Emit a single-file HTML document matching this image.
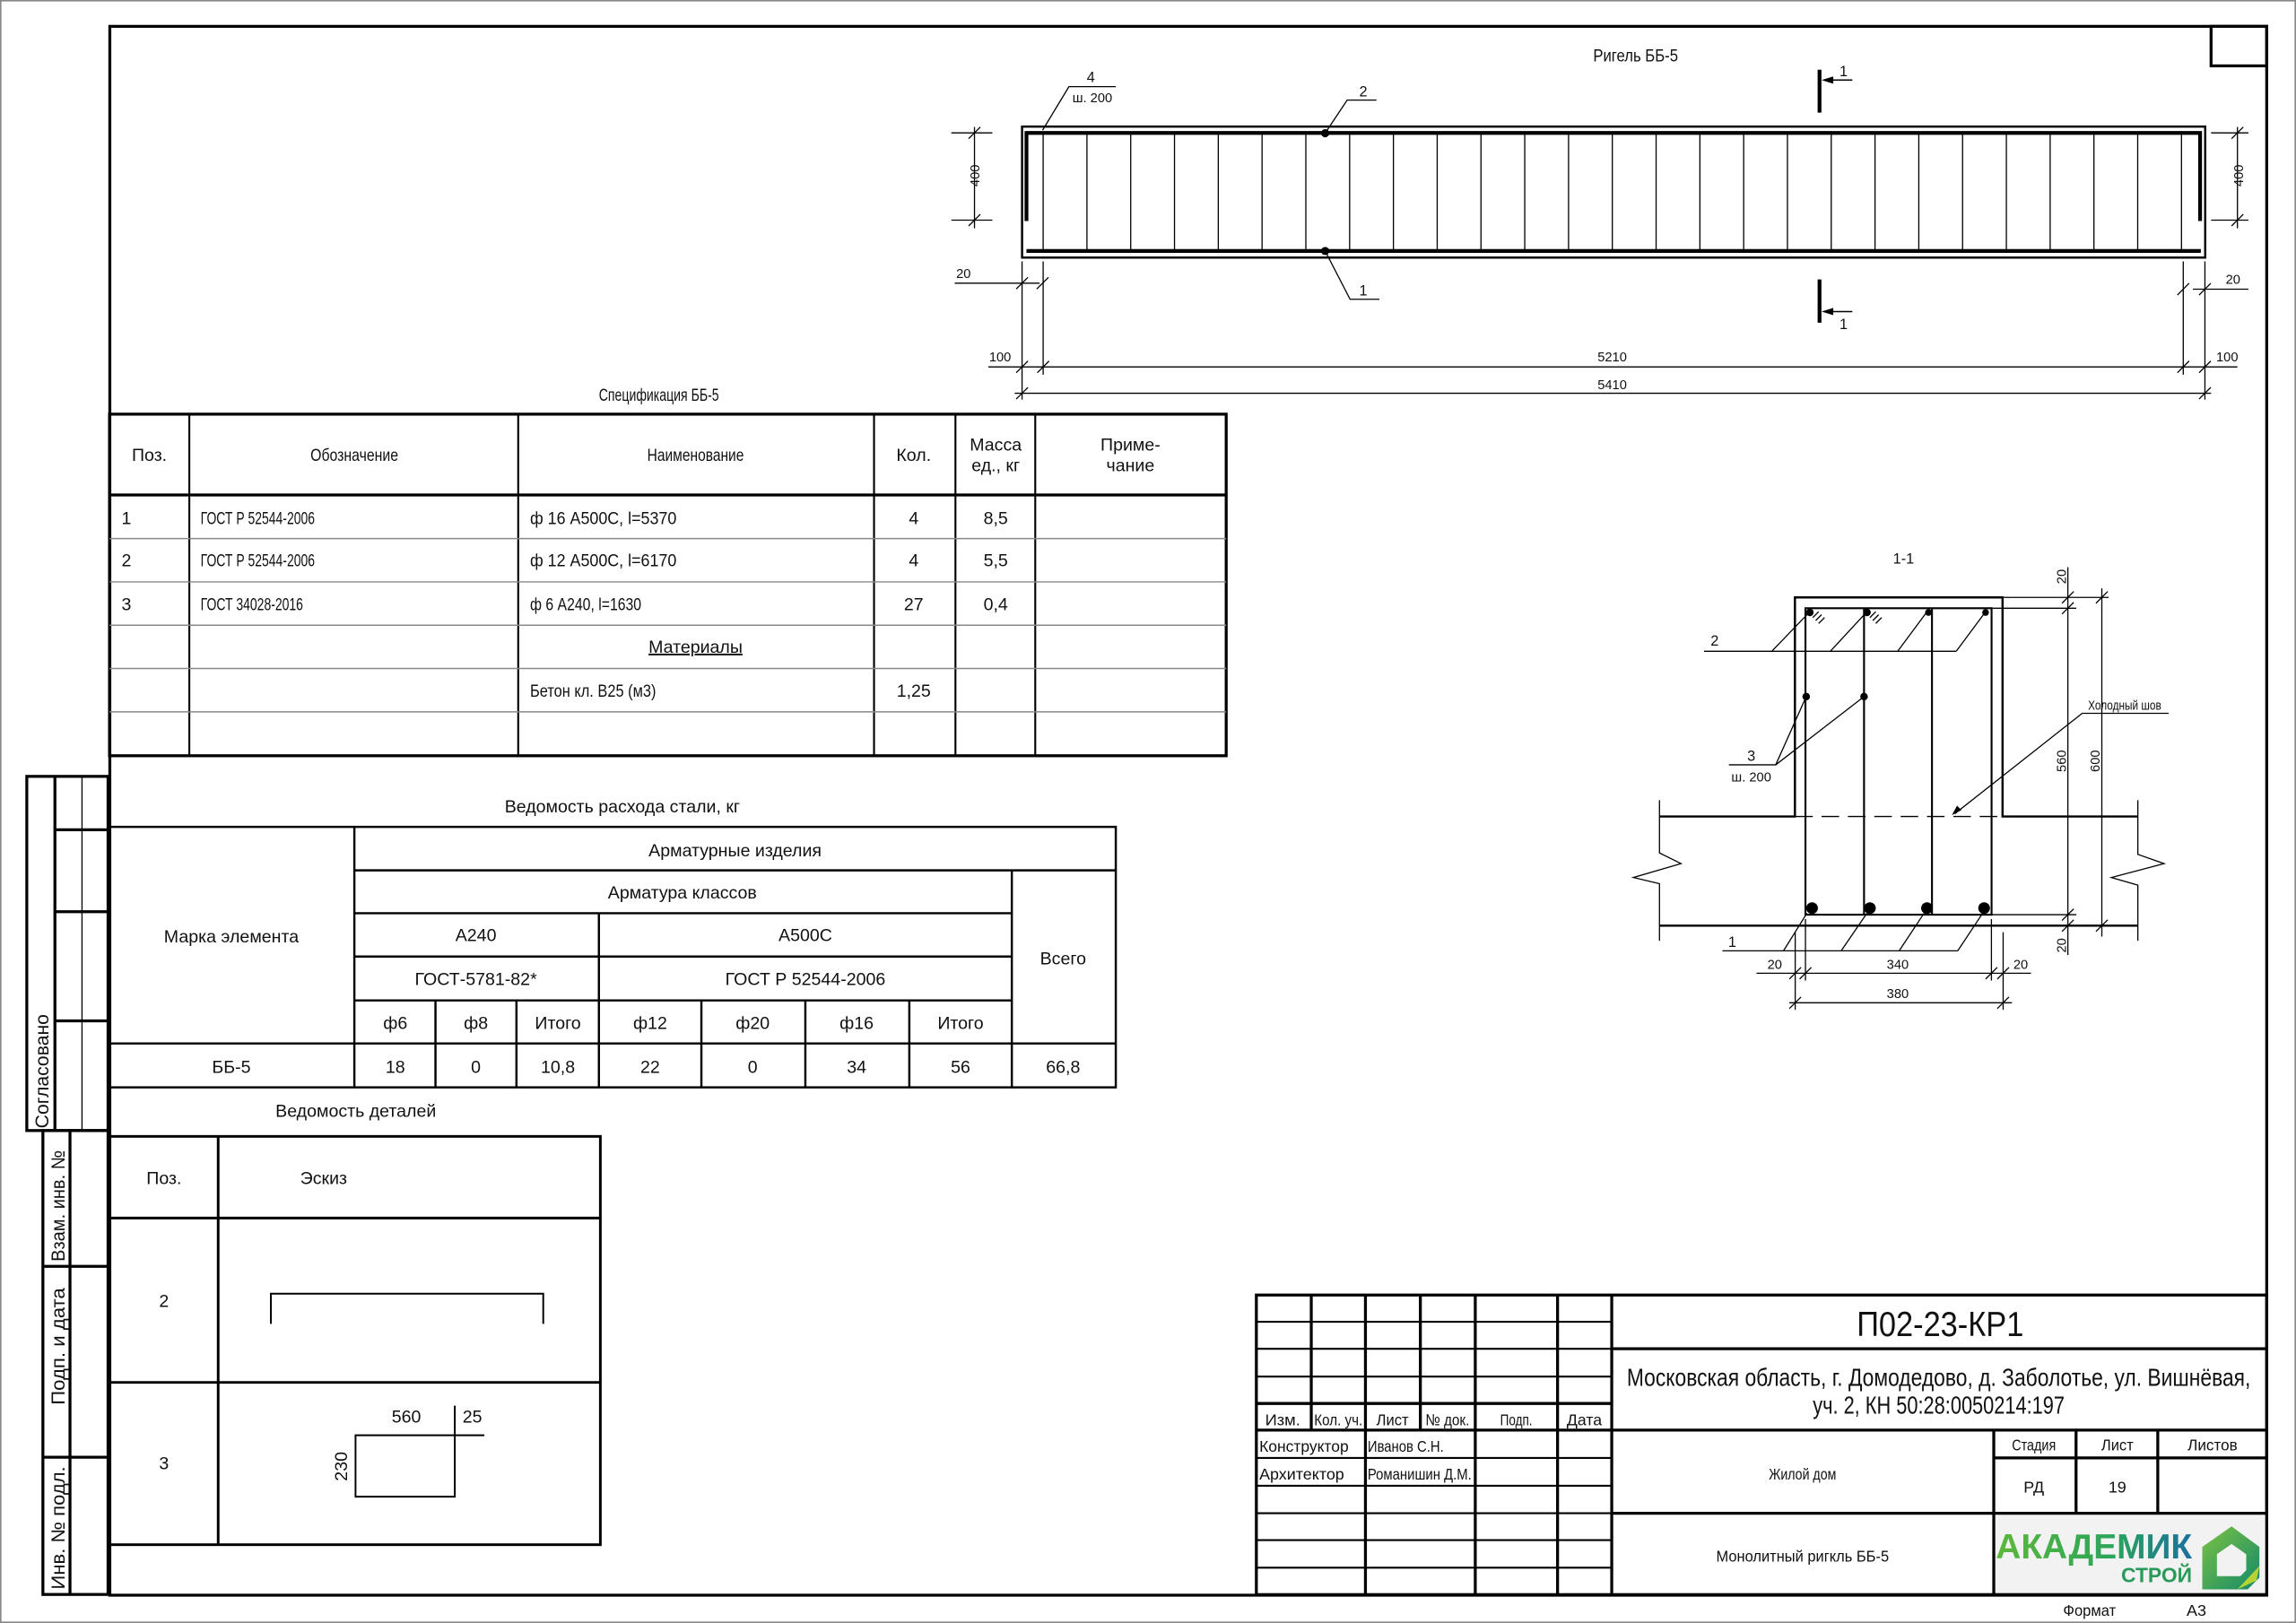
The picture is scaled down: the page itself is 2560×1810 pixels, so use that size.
<!DOCTYPE html>
<html><head><meta charset="utf-8"><style>
html,body{margin:0;padding:0;background:#fff}
svg{display:block}
text{font-family:"Liberation Sans Narrow","Liberation Sans","DejaVu Sans Condensed",sans-serif;fill:#111}
</style></head><body>
<svg width="2560" height="1810" viewBox="0 0 1568 1109" preserveAspectRatio="none" xmlns="http://www.w3.org/2000/svg">
<defs>
<linearGradient id="lg" x1="0" x2="1" y1="0" y2="0"><stop offset="0" stop-color="#5cb83a"/><stop offset="0.6" stop-color="#2aa55a"/><stop offset="1" stop-color="#1a6fa0"/></linearGradient>
<linearGradient id="hg" x1="0" x2="1" y1="0" y2="1"><stop offset="0" stop-color="#7cc242"/><stop offset="1" stop-color="#138a6a"/></linearGradient>
</defs>
<rect x="0.5" y="0.5" width="1567" height="1108" fill="none" stroke="#888" stroke-width="1"/>
<g fill="none" stroke="#000" stroke-width="2">
<rect x="75" y="18" width="1473" height="1072"/>
<rect x="1510" y="18" width="38" height="27"/>
<rect x="18.3" y="530.5" width="55.5" height="242"/>
<line x1="37.5" y1="530.5" x2="37.5" y2="772.5"/>
<line x1="37.5" y1="567" x2="73.8" y2="567"/>
<line x1="37.5" y1="623" x2="73.8" y2="623"/>
<line x1="37.5" y1="697.6" x2="73.8" y2="697.6"/>
<rect x="29.3" y="772.5" width="44.5" height="317"/>
<line x1="47.8" y1="772.5" x2="47.8" y2="1089.5"/>
<line x1="29.3" y1="865.3" x2="73.8" y2="865.3"/>
<line x1="29.3" y1="995.7" x2="73.8" y2="995.7"/>
</g>
<line x1="56" y1="530.5" x2="56" y2="772.5" stroke="#000" stroke-width="0.8"/>
<g font-size="13" fill="#111" text-anchor="middle" lengthAdjust="spacingAndGlyphs">
<text transform="translate(33,732) rotate(-90)" textLength="78" lengthAdjust="spacingAndGlyphs">Согласовано</text>
<text transform="translate(44,824) rotate(-90)" textLength="76" lengthAdjust="spacingAndGlyphs">Взам. инв. №</text>
<text transform="translate(44,920) rotate(-90)" textLength="80" lengthAdjust="spacingAndGlyphs">Подп. и дата</text>
<text transform="translate(44,1044) rotate(-90)" textLength="84" lengthAdjust="spacingAndGlyphs">Инв. № подл.</text>
</g>

<!-- Rigel elevation -->
<text x="1117" y="42" font-size="12" text-anchor="middle" textLength="58" lengthAdjust="spacingAndGlyphs">Ригель ББ-5</text>
<rect x="698" y="86.5" width="808" height="89.5" fill="none" stroke="#000" stroke-width="1.5"/>
<path d="M701 151 V90.8 H1502.5 V151" fill="none" stroke="#000" stroke-width="2.6"/>
<line x1="701" y1="171.5" x2="1503" y2="171.5" stroke="#000" stroke-width="2.6"/>
<path d="M712.4 91V171M742.3 91V171M772.2 91V171M802.1 91V171M832 91V171M861.9 91V171M891.8 91V171M921.7 91V171M951.6 91V171M981.5 91V171M1011.4 91V171M1041.3 91V171M1071.2 91V171M1101.1 91V171M1131 91V171M1160.9 91V171M1190.8 91V171M1220.7 91V171M1250.6 91V171M1280.5 91V171M1310.4 91V171M1340.3 91V171M1370.2 91V171M1400.1 91V171M1430 91V171M1459.9 91V171M1489.8 91V171" stroke="#000" stroke-width="0.8"/>
<circle cx="905" cy="91" r="2.8" fill="#000"/>
<circle cx="905" cy="171.5" r="2.8" fill="#000"/>
<g fill="none" stroke="#000" stroke-width="0.8">
<path d="M905 91 L920 68.4 H940"/>
<path d="M905 171.5 L922 204.5 H942"/>
<path d="M712 89 L730 59.2 H762"/>
<path d="M665.5 86.8 V156 M649.7 90.8 H677.7 M649.7 150.4 H677.7 M661.5 94.8 L669.5 86.8 M661.5 154.4 L669.5 146.4"/>
<path d="M1528 86.8 V156 M1510 90.8 H1535.5 M1510 150.4 H1535.5 M1524 94.8 L1532 86.8 M1524 154.4 L1532 146.4"/>
<path d="M698 178.6 V273 M712.4 178.6 V256 M1491 178.6 V256 M1505.8 178.6 V273"/>
<path d="M652 193.5 H710 M694 197.5 L702 189.5 M708 197.5 L716 189.5"/>
<path d="M1497.6 197.6 H1535.5 M1487 201.6 L1495 193.6 M1501.8 201.6 L1509.8 193.6"/>
<path d="M675 250.7 H1528 M694 254.7 L702 246.7 M708.4 254.7 L716.4 246.7 M1487 254.7 L1495 246.7 M1501.8 254.7 L1509.8 246.7"/>
<path d="M693 268.7 H1510 M694 272.7 L702 264.7 M1501.8 272.7 L1509.8 264.7"/>
</g>
<g stroke="#000">
<line x1="1242.6" y1="47.6" x2="1242.6" y2="77" stroke-width="2.6"/>
<line x1="1242.6" y1="190.9" x2="1242.6" y2="220.5" stroke-width="2.6"/>
<line x1="1246" y1="54.7" x2="1265" y2="54.7" stroke-width="0.9"/>
<line x1="1246" y1="212.9" x2="1265" y2="212.9" stroke-width="0.9"/>
</g>
<path d="M1244 54.7 L1252 52.2 L1252 57.2Z M1244 212.9 L1252 210.4 L1252 215.4Z" fill="#000"/>
<g font-size="10" text-anchor="middle">
<text x="1259" y="52">1</text>
<text x="1259" y="225">1</text>
<text x="931" y="66">2</text>
<text x="931" y="202">1</text>
<text x="745" y="56">4</text>
<text x="746" y="70" font-size="9">ш. 200</text>
<text transform="translate(669,120) rotate(-90)" font-size="9">400</text>
<text transform="translate(1532,120) rotate(-90)" font-size="9">400</text>
<text x="658" y="190" font-size="9">20</text>
<text x="1525" y="194" font-size="9">20</text>
<text x="683" y="247" font-size="9">100</text>
<text x="1101" y="247" font-size="9">5210</text>
<text x="1521" y="247" font-size="9">100</text>
<text x="1101" y="266" font-size="9">5410</text>
</g>

<!-- Section 1-1 -->
<text x="1300" y="385" font-size="10" text-anchor="middle">1-1</text>
<g fill="none" stroke="#000" stroke-width="1.5">
<path d="M1133.3 557.9 H1225.8 V408.2 H1367.6 V557.9 H1460"/>
<line x1="1133.3" y1="632.5" x2="1460" y2="632.5"/>
</g>
<g fill="none" stroke="#000" stroke-width="0.8">
<path d="M1133.3 546.8 V582.8 L1148 590.1 L1115.5 599.6 L1133.3 603.8 V642.8"/>
<path d="M1460 546.8 V583.8 L1477.9 590.1 L1441.9 599.6 L1460 604.8 V642.8"/>
</g>
<line x1="1226" y1="557.9" x2="1368" y2="557.9" stroke="#000" stroke-width="0.8" stroke-dasharray="12,6"/>
<g fill="none" stroke="#000" stroke-width="1.3">
<rect x="1233" y="415.6" width="127.1" height="209.4"/>
<line x1="1273" y1="415.6" x2="1273" y2="625"/>
<line x1="1319.4" y1="415.6" x2="1319.4" y2="625"/>
</g>
<g fill="#000">
<circle cx="1236" cy="418.5" r="2.6"/><circle cx="1275" cy="418.5" r="2.6"/><circle cx="1317" cy="418.5" r="2.3"/><circle cx="1356" cy="418.5" r="2.3"/>
<circle cx="1233.5" cy="476" r="2.6"/><circle cx="1273" cy="476" r="2.6"/>
<circle cx="1237.5" cy="620.5" r="4"/><circle cx="1277" cy="620.5" r="4"/><circle cx="1316" cy="620.5" r="4"/><circle cx="1355" cy="620.5" r="4"/>
</g>
<g fill="none" stroke="#000" stroke-width="0.8">
<path d="M1238 422 L1242 418 M1240 424 L1244 420 M1242 426 L1246 422"/>
<path d="M1277 422 L1281 418 M1279 424 L1283 420 M1281 426 L1285 422"/>
<path d="M1163.7 445 H1336 M1210 445 L1236 418 M1250 445 L1275 418 M1296 445 L1316 418 M1336 445 L1356 418"/>
<path d="M1180.7 522.6 H1212.7 L1233.5 476 M1212.7 522.6 L1273 476"/>
<path d="M1176.3 649.7 H1337 M1218 649.7 L1234 624 M1257.4 649.7 L1275 624 M1297 649.7 L1314 624 M1337 649.7 L1354 624"/>
<path d="M1481 487.4 H1422 L1335 556"/>
<path d="M1412.2 387.5 V652.5 M1435.4 402 V640"/>
<path d="M1362 408.2 H1440 M1358 415.6 H1418 M1358 625 H1418 M1368 632.5 H1440"/>
<path d="M1408.2 412.2 L1416.2 404.2 M1408.2 419.6 L1416.2 411.6 M1408.2 629 L1416.2 621 M1408.2 636.5 L1416.2 628.5 M1431.4 412.2 L1439.4 404.2 M1431.4 636.5 L1439.4 628.5"/>
<path d="M1199.5 665 H1387 M1222 685.2 H1374"/>
<path d="M1226 637 V690 M1233 628 V670 M1360 628 V670 M1368 637 V690"/>
<path d="M1222 669 L1230 661 M1229 669 L1237 661 M1356 669 L1364 661 M1364 669 L1372 661 M1222 689.2 L1230 681.2 M1364 689.2 L1372 681.2"/>
</g>
<path d="M1333 557 L1336.5 550.5 L1339.5 553.5Z" fill="#000"/>
<g font-size="9" text-anchor="middle">
<text x="1171" y="441" font-size="10">2</text>
<text x="1196" y="520" font-size="10">3</text>
<text x="1196" y="534">ш. 200</text>
<text x="1183" y="647" font-size="10">1</text>
<text x="1451" y="485" textLength="50" lengthAdjust="spacingAndGlyphs">Холодный шов</text>
<text transform="translate(1411,394) rotate(-90)">20</text>
<text transform="translate(1411,520) rotate(-90)">560</text>
<text transform="translate(1434,520) rotate(-90)">600</text>
<text transform="translate(1411,646) rotate(-90)">20</text>
<text x="1212" y="662">20</text>
<text x="1296" y="662">340</text>
<text x="1380" y="662">20</text>
<text x="1296" y="682">380</text>
</g>

<!-- Spec table -->
<text x="450" y="274" font-size="12" text-anchor="middle" textLength="82" lengthAdjust="spacingAndGlyphs">Спецификация ББ-5</text>
<g fill="none" stroke="#000">
<rect x="74.8" y="283" width="762.6" height="233.4" stroke-width="2"/>
<line x1="74.8" y1="338.2" x2="837.4" y2="338.2" stroke-width="2"/>
<path d="M129.3 283V516.4M353.9 283V516.4M596.9 283V516.4M652.5 283V516.4M707 283V516.4" stroke-width="1.3"/>
<path d="M74.8 368H837.4M74.8 397.6H837.4M74.8 427.2H837.4M74.8 456.8H837.4M74.8 486.4H837.4" stroke="#888" stroke-width="0.9"/>
</g>
<g font-size="12">
<g text-anchor="middle">
<text x="102" y="315">Поз.</text>
<text x="242" y="315" textLength="60" lengthAdjust="spacingAndGlyphs">Обозначение</text>
<text x="475" y="315" textLength="66" lengthAdjust="spacingAndGlyphs">Наименование</text>
<text x="624" y="315">Кол.</text>
<text x="680" y="308">Масса</text>
<text x="680" y="322">ед., кг</text>
<text x="772" y="308">Приме-</text>
<text x="772" y="322">чание</text>
<text x="624" y="358">4</text><text x="680" y="358">8,5</text>
<text x="624" y="387">4</text><text x="680" y="387">5,5</text>
<text x="624" y="417">27</text><text x="680" y="417">0,4</text>
<text x="475" y="446" text-decoration="underline">Материалы</text>
<text x="624" y="476">1,25</text>
</g>
<text x="83" y="358">1</text><text x="137" y="358" textLength="78" lengthAdjust="spacingAndGlyphs">ГОСТ Р 52544-2006</text><text x="362" y="358" textLength="100" lengthAdjust="spacingAndGlyphs">ф 16 А500С, l=5370</text>
<text x="83" y="387">2</text><text x="137" y="387" textLength="78" lengthAdjust="spacingAndGlyphs">ГОСТ Р 52544-2006</text><text x="362" y="387" textLength="100" lengthAdjust="spacingAndGlyphs">ф 12 А500С, l=6170</text>
<text x="83" y="417">3</text><text x="137" y="417" textLength="70" lengthAdjust="spacingAndGlyphs">ГОСТ 34028-2016</text><text x="362" y="417" textLength="76" lengthAdjust="spacingAndGlyphs">ф 6 А240, l=1630</text>
<text x="362" y="476" textLength="86" lengthAdjust="spacingAndGlyphs">Бетон кл. В25 (м3)</text>
</g>

<!-- Steel table -->
<text x="425" y="555" font-size="12" text-anchor="middle">Ведомость расхода стали, кг</text>
<g fill="none" stroke="#000" stroke-width="1.5">
<rect x="75" y="565" width="687" height="178"/>
<path d="M242 565V743M242 594.7H762M242 624H691M242 653.6H691M242 683.6H691M75 713H762M691 594.7V743M409 624V743M297.4 683.6V743M352.7 683.6V743M479 683.6V743M550 683.6V743M621 683.6V743"/>
</g>
<g font-size="12" text-anchor="middle">
<text x="502" y="585">Арматурные изделия</text>
<text x="466" y="614">Арматура классов</text>
<text x="726" y="659">Всего</text>
<text x="325" y="643">А240</text>
<text x="550" y="643">А500С</text>
<text x="325" y="673">ГОСТ-5781-82*</text>
<text x="550" y="673">ГОСТ Р 52544-2006</text>
<text x="270" y="703">ф6</text><text x="325" y="703">ф8</text><text x="381" y="703">Итого</text>
<text x="444" y="703">ф12</text><text x="514" y="703">ф20</text><text x="585" y="703">ф16</text><text x="656" y="703">Итого</text>
<text x="158" y="644">Марка элемента</text>
<text x="158" y="733">ББ-5</text>
<text x="270" y="733">18</text><text x="325" y="733">0</text><text x="381" y="733">10,8</text>
<text x="444" y="733">22</text><text x="514" y="733">0</text><text x="585" y="733">34</text><text x="656" y="733">56</text><text x="726" y="733">66,8</text>
</g>

<!-- Details table -->
<text x="243" y="763" font-size="12" text-anchor="middle">Ведомость деталей</text>
<g fill="none" stroke="#000" stroke-width="1.8">
<rect x="75" y="776.5" width="335" height="279"/>
<path d="M149 776.5V1055.5M75 832.3H410M75 944.6H410"/>
</g>
<g fill="none" stroke="#000" stroke-width="1.2">
<path d="M185 904.6V884H371V904.6"/>
<path d="M242.8 980.7H310.6V1022.7H242.8Z M310.6 960.5V980.7H330.8"/>
</g>
<g font-size="12" text-anchor="middle">
<text x="112" y="809">Поз.</text>
<text x="221" y="809">Эскиз</text>
<text x="112" y="893">2</text>
<text x="112" y="1004">3</text>
<text x="277.5" y="972">560</text>
<text x="322.6" y="972">25</text>
<text transform="translate(237,1002) rotate(-90)">230</text>
</g>

<!-- Title block -->
<rect x="1361.6" y="1034" width="186.4" height="55.6" fill="#f2f2f2"/>
<g fill="none" stroke="#000" stroke-width="2">
<rect x="858" y="884.9" width="690" height="204.7"/>
<path d="M895.5 884.9V977.2M970 884.9V977.2M932.5 884.9V1089.6M1007.5 884.9V1089.6M1063.7 884.9V1089.6M1100.7 884.9V1089.6"/>
<path d="M858 959H1100.7M858 977.2H1548M1100.7 921.6H1548M1100.7 1034H1548M1361.6 977.2V1089.6M1417.8 977.2V1034M1473.6 977.2V1034M1361.6 996.2H1548"/>
</g>
<path d="M858 903.2H1100.7M858 921.6H1100.7M858 940.6H1100.7M858 996.2H1100.7M858 1015.2H1100.7M858 1034H1100.7M858 1052.4H1100.7M858 1071.2H1100.7" stroke="#000" stroke-width="1.3"/>
<g font-size="12">
<text x="1325" y="913" font-size="24" text-anchor="middle" textLength="114" lengthAdjust="spacingAndGlyphs">П02-23-КР1</text>
<text x="1324" y="947" font-size="17" text-anchor="middle" textLength="426" lengthAdjust="spacingAndGlyphs">Московская область, г. Домодедово, д. Заболотье, ул. Вишнёвая,</text>
<text x="1324" y="966" font-size="17" text-anchor="middle" textLength="172" lengthAdjust="spacingAndGlyphs">уч. 2, КН 50:28:0050214:197</text>
<g text-anchor="middle" font-size="11">
<text x="876" y="974" textLength="24" lengthAdjust="spacingAndGlyphs">Изм.</text><text x="914" y="974" textLength="33" lengthAdjust="spacingAndGlyphs">Кол. уч.</text><text x="951" y="974" textLength="22" lengthAdjust="spacingAndGlyphs">Лист</text><text x="988.5" y="974" textLength="30" lengthAdjust="spacingAndGlyphs">№ док.</text><text x="1035.5" y="974" textLength="22" lengthAdjust="spacingAndGlyphs">Подп.</text><text x="1082" y="974" textLength="24" lengthAdjust="spacingAndGlyphs">Дата</text>
<text x="1231" y="1011" textLength="46" lengthAdjust="spacingAndGlyphs">Жилой дом</text>
<text x="1389" y="991" textLength="30" lengthAdjust="spacingAndGlyphs">Стадия</text><text x="1446" y="991" textLength="22" lengthAdjust="spacingAndGlyphs">Лист</text><text x="1511" y="991" textLength="34" lengthAdjust="spacingAndGlyphs">Листов</text>
<text x="1389" y="1020">РД</text><text x="1446" y="1020">19</text>
<text x="1231" y="1067" textLength="118" lengthAdjust="spacingAndGlyphs">Монолитный ригкль ББ-5</text>
<text x="1427" y="1104" textLength="36" lengthAdjust="spacingAndGlyphs">Формат</text><text x="1500" y="1104">А3</text>
</g>
<g font-size="11">
<text x="860" y="992" textLength="61" lengthAdjust="spacingAndGlyphs">Конструктор</text><text x="934" y="992" textLength="52" lengthAdjust="spacingAndGlyphs">Иванов С.Н.</text>
<text x="860" y="1011" textLength="58" lengthAdjust="spacingAndGlyphs">Архитектор</text><text x="934" y="1011" textLength="71" lengthAdjust="spacingAndGlyphs">Романишин Д.М.</text>
</g>
</g>
<text x="1430" y="1065" font-family="Liberation Sans" font-weight="bold" font-size="24" text-anchor="middle" style="fill:url(#lg)" textLength="134" lengthAdjust="spacingAndGlyphs">АКАДЕМИК</text>
<text x="1497" y="1081" font-family="Liberation Sans" font-weight="bold" font-size="14" text-anchor="end" style="fill:#2a9a5a">СТРОЙ</text>
<path d="M1524 1043 L1543 1057 V1078 L1535 1086 H1504 V1057 Z M1514 1062 V1077 H1530 L1534 1073 V1062 L1524 1055 Z" fill="url(#hg)" fill-rule="evenodd"/>
<path d="M1528 1086 L1543 1070 L1541 1080 Z" fill="#b5d334"/>
</svg>
</body></html>
